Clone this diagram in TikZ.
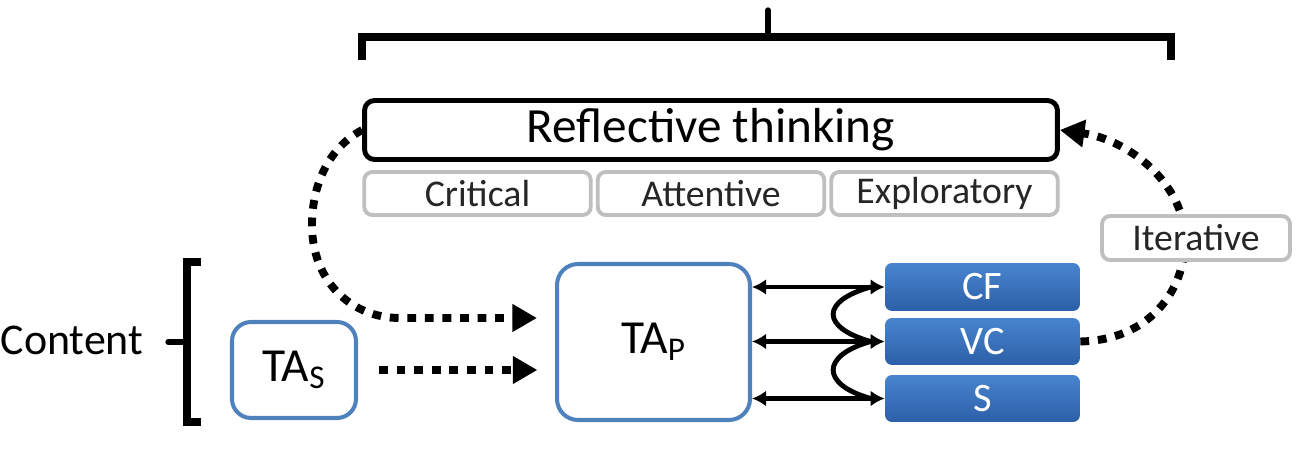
\documentclass[tikz,border=0pt]{standalone}
\usepackage{fontspec}
\setmainfont{Carlito}
\usetikzlibrary{arrows.meta,calc}
\definecolor{bblue}{RGB}{79,129,189}
\definecolor{fbluetop}{RGB}{72,132,206}
\definecolor{fbluebot}{RGB}{44,96,168}
\definecolor{lgray}{RGB}{191,191,191}
\definecolor{tgray}{RGB}{38,38,38}
\begin{document}
\begin{tikzpicture}[x=0.02cm,y=-0.02cm,
 reflbox/.style={draw=black,line width=2.8pt,rounded corners=0.2cm,minimum width=13.86cm,minimum height=1.18cm,inner sep=0pt,font=\fontsize{28}{34}\selectfont},
 subbox/.style={draw=lgray,line width=2.2pt,rounded corners=0.16cm,minimum width=4.53cm,minimum height=0.86cm,inner sep=0pt,text=tgray,font=\fontsize{21.5}{26}\selectfont},
 tabox/.style={draw=bblue,line width=2.3pt,rounded corners=0.38cm,inner sep=0pt,font=\fontsize{27}{32}\selectfont},
 bluebox/.style={top color=fbluetop,bottom color=fbluebot,rounded corners=0.14cm,minimum width=3.9cm,inner sep=0pt,text=white,font=\fontsize{23}{28}\selectfont},
 bracket/.style={line width=5pt},
 tickline/.style={line width=3pt},
 dotarrow/.style={line width=4.5pt,dash pattern=on 5pt off 5pt,-{Triangle[length=14pt,width=15pt]}},
 bid/.style={line width=2.8pt,{Latex[length=8pt,width=9pt]}-{Latex[length=8pt,width=9pt]}},
 link/.style={line width=2.8pt}
]
\useasboundingbox (0,0) rectangle (1308,452);

% top bracket
\draw[bracket] (362,60) -- (362,37) -- (1171,37) -- (1171,60);
\draw[tickline,line cap=round] (768,10) -- (768,37);

% main boxes
\node[reflbox] (rt) at (711,130) {Reflective thinking};
\node[subbox] (crit) at (477.5,193.5) {Critical};
\node[subbox] (att) at (711,193.5) {Attentive};
\node[subbox] (expl) at (944.5,193.5) {Exploratory};

% content
\node[font=\fontsize{25}{30}\selectfont,inner sep=0pt] (content) at (72,340) {Content};
\draw[bracket] (201,262) -- (187,262) -- (187,422) -- (201,422);
\draw[tickline,line cap=round] (168,342) -- (187,342);

\node[tabox,minimum width=2.48cm,minimum height=1.92cm] (tas) at (294,370) {TA\textsubscript{S}};
\node[tabox,minimum width=3.86cm,minimum height=3.12cm,rounded corners=0.42cm] (tap) at (653.5,342) {TA\textsubscript{P}};

\node[bluebox,minimum height=0.96cm] (cf) at (982.5,287) {CF};
\node[bluebox,minimum height=0.94cm] (vc) at (982.5,341.5) {VC};
\node[bluebox,minimum height=0.94cm] (s) at (982.5,398.5) {S};

% bidirectional arrows
\draw[bid] (tap.east |- cf) -- (cf.west);
\draw[bid] (tap.east |- vc) -- (vc.west);
\draw[bid] (tap.east |- s) -- (s.west);
\draw[link] ($(cf.west)+(-14,0)$) .. controls ($(cf.west)+(-64,14)$) and ($(vc.west)+(-64,-14)$) .. ($(vc.west)+(-14,0)$);
\draw[link] ($(vc.west)+(-14,0)$) .. controls ($(vc.west)+(-64,14)$) and ($(s.west)+(-64,-14)$) .. ($(s.west)+(-14,0)$);

% dotted arrows
\draw[dotarrow,shorten <=12pt,shorten >=10pt] (tas.east) -- (tas.east -| tap.west);
\coordinate (lin) at ($(tap.west)+(-18,-24)$);
\draw[dotarrow] (rt.west) .. controls (325,150) and (312,190) .. (312,225)
  .. controls (312,280) and (350,318) .. (400,318) -- (lin);
\draw[dotarrow] (vc.east) .. controls (1150,340) and (1185,290) .. (1185,240)
  .. controls (1185,185) and (1130,140) .. (rt.east);

\node[subbox,minimum width=3.76cm,minimum height=0.88cm,fill=white] (iter) at (1196,238) {Iterative};
\end{tikzpicture}
\end{document}
